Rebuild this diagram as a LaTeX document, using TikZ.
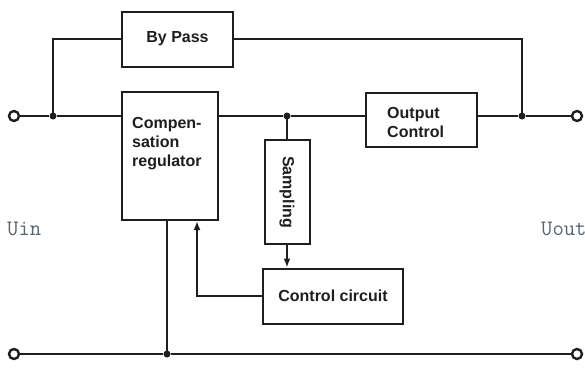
\documentclass[tikz,border=0pt]{standalone}
\usepackage{fontspec}
\setmainfont{Liberation Sans}
\usetikzlibrary{arrows.meta}
\definecolor{ink}{HTML}{1E1E1E}
\definecolor{lbl}{HTML}{56656F}
\begin{document}
\begin{tikzpicture}[x=1pt,y=-1pt,
  wire/.style={draw=ink,line width=2pt},
  blk/.style={draw=ink,line width=2pt,fill=white,inner sep=0pt,
    font=\fontsize{16}{19}\selectfont\bfseries,text=ink},
  txt/.style={font=\fontsize{16}{19}\selectfont\bfseries,text=ink,inner sep=0pt,align=left},
  dot/.style={circle,fill=ink,inner sep=0pt,minimum size=7pt},
  term/.style={circle,draw=ink,line width=2.4pt,fill=white,inner sep=0pt,minimum size=10pt},
  ulbl/.style={font=\ttfamily\fontsize{22}{24}\selectfont,text=lbl,inner sep=0pt},
  arr/.style={-{Latex[length=9pt,width=7pt]}}
]
\fill[white] (0,0) rectangle (585,367);
\useasboundingbox (0,0) rectangle (585,367);

% blocks
\node[blk,minimum width=111pt,minimum height=55pt] (bypass) at (177.5,39) {By Pass};
\node[blk,minimum width=96pt,minimum height=128pt] (comp) at (170,156) {};
\node[txt,anchor=west] (comptext) at (132,144) {Compen-\\sation\\regulator};
\node[blk,minimum width=45pt,minimum height=104pt] (samp) at (287,192) {};
\node[txt,rotate=-90] (samptext) at (samp.center) {Sampling};
\node[blk,minimum width=140pt,minimum height=55pt] (ctrl) at (333,296) {Control circuit};
\node[blk,minimum width=111pt,minimum height=54pt] (outc) at (421.5,119.5) {};
\node[txt,anchor=west] (outtext) at (387,122) {Output\\Control};

% terminals
\node[term] (inT) at (14,116) {};
\node[term] (outT) at (577,116) {};
\node[term] (inB) at (14,354) {};
\node[term] (outB) at (577,354) {};

% junctions
\node[dot] (jL) at (53,116) {};
\node[dot] (jM) at (287,116) {};
\node[dot] (jR) at (522,116) {};
\node[dot] (jB) at (167,354) {};

% labels
\node[ulbl,anchor=west] (uin) at (7,229) {Uin};
\node[ulbl,anchor=west] (uout) at (541,229) {Uout};

% wires
\draw[wire] (inT) -- (jL) -- (jL -| comp.west);
\draw[wire] (jL.center) |- (bypass.west);
\draw[wire] (bypass.east) -| (jR.center);
\draw[wire] (jM -| comp.east) -- (jM) -- (jM -| outc.west);
\draw[wire] (jM -| outc.east) -- (jR) -- (outT);
\draw[wire] (jM.center) -- (samp.north);
\draw[wire,arr] (samp.south) -- (samp.south |- ctrl.north);
\draw[wire,arr] (ctrl.west) -| ([xshift=27pt]comp.south);
\draw[wire] ([xshift=-3pt]comp.south) -- (jB.center);
\draw[wire] (inB) -- (jB) -- (outB);
\end{tikzpicture}
\end{document}
